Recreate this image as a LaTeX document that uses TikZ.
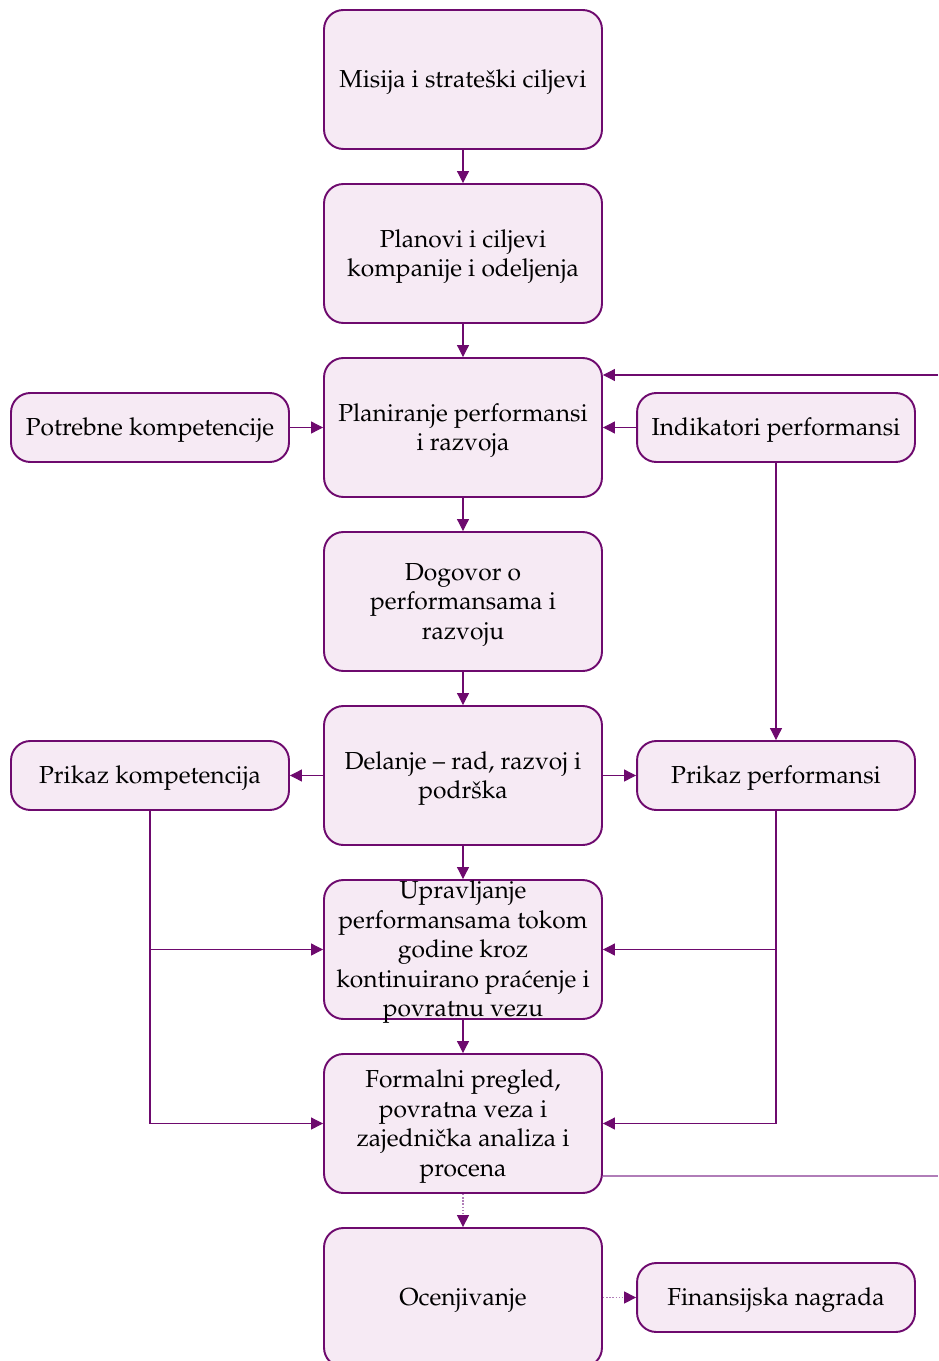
\documentclass[tikz,border=0pt]{standalone}
\usepackage[T1]{fontenc}
\usepackage{mathpazo}
\usetikzlibrary{arrows.meta}

\definecolor{plum}{RGB}{110,10,110}
\definecolor{plumfill}{RGB}{246,234,244}
\definecolor{plumlight}{RGB}{176,125,184}

\begin{document}
\begin{tikzpicture}[x=0.02cm,y=-0.02cm,
  txt/.style={align=center, font=\fontsize{14}{16.8}\selectfont, inner sep=0pt, yshift=-1.7pt},
  frame/.style={draw=plum, fill=plumfill, line width=1.1pt, rounded corners=11pt, inner sep=0pt},
  mainbox/.style={frame, minimum width=5.56cm, minimum height=2.78cm},
  sidebox/.style={frame, minimum width=5.56cm, minimum height=1.38cm},
  tip/.style={-{Triangle[length=6.8pt,width=6.8pt,color=plum]}},
  link/.style={draw=plum, line width=0.6pt, tip},
  softlink/.style={draw=plumlight, line width=0.8pt, densely dotted, tip},
  feedback/.style={draw=plumlight, line width=1pt}]

\useasboundingbox (0,0) rectangle (938,1361);

% main column: frames
\node[mainbox] (b1) at (463,79.5)   {};
\node[mainbox] (b2) at (463,253.5)  {};
\node[mainbox] (b3) at (463,427.5)  {};
\node[mainbox] (b4) at (463,601.5)  {};
\node[mainbox] (b5) at (463,775.5)  {};
\node[mainbox] (b6) at (463,949.5)  {};
\node[mainbox] (b7) at (463,1123.5) {};
\node[mainbox] (b8) at (463,1297.5) {};

% side boxes: frames
\node[sidebox] (pk)  at (150,427.5)  {};
\node[sidebox] (ip)  at (776,427.5)  {};
\node[sidebox] (prk) at (150,775.5)  {};
\node[sidebox] (prp) at (776,775.5)  {};
\node[sidebox] (fn)  at (776,1297.5) {};

% texts, centred on their frames
\node[txt] (b1t) at (b1.center) {Misija i strate\v{s}ki ciljevi};
\node[txt] (b2t) at (b2.center) {Planovi i ciljevi\\kompanije i odeljenja};
\node[txt] (b3t) at (b3.center) {Planiranje performansi\\i razvoja};
\node[txt] (b4t) at (b4.center) {Dogovor o\\performansama i\\razvoju};
\node[txt] (b5t) at (b5.center) {Delanje -- rad, razvoj i\\podr\v{s}ka};
\node[txt] (b6t) at (b6.center) {Upravljanje\\performansama tokom\\godine kroz\\kontinuirano pra\'cenje i\\povratnu vezu};
\node[txt] (b7t) at (b7.center) {Formalni pregled,\\povratna veza i\\zajedni\v{c}ka analiza i\\procena};
\node[txt] (b8t) at (b8.center) {Ocenjivanje};
\node[txt] (pkt)  at (pk.center)  {Potrebne kompetencije};
\node[txt] (ipt)  at (ip.center)  {Indikatori performansi};
\node[txt] (prkt) at (prk.center) {Prikaz kompetencija};
\node[txt] (prpt) at (prp.center) {Prikaz performansi};
\node[txt] (fnt)  at (fn.center)  {Finansijska nagrada};

% loose ends at the right margin
\coordinate (rin)  at (938,375);
\coordinate (rout) at (938,1176);

% main flow
\draw[link] (b1.south) -- (b2.north);
\draw[link] (b2.south) -- (b3.north);
\draw[link] (b3.south) -- (b4.north);
\draw[link] (b4.south) -- (b5.north);
\draw[link] (b5.south) -- (b6.north);
\draw[link] (b6.south) -- (b7.north);
\draw[softlink] (b7.south) -- (b8.north);
\draw[softlink] (b8.east) -- (fn.west);

% inputs to planning
\draw[link] (pk.east) -- (b3.west);
\draw[link] (ip.west) -- (b3.east);
\draw[link] (ip.south) -- (prp.north);
\draw[link] (rin) -- (b3.east |- rin);

% outputs of work
\draw[link] (b5.west) -- (prk.east);
\draw[link] (b5.east) -- (prp.west);
\draw[link] (prk.south) |- (b6.west);
\draw[link] (prk.south) |- (b7.west);
\draw[link] (prp.south) |- (b6.east);
\draw[link] (prp.south) |- (b7.east);

% feedback leaving the review
\draw[feedback] (b7.east |- rout) -- (rout);

\end{tikzpicture}
\end{document}
